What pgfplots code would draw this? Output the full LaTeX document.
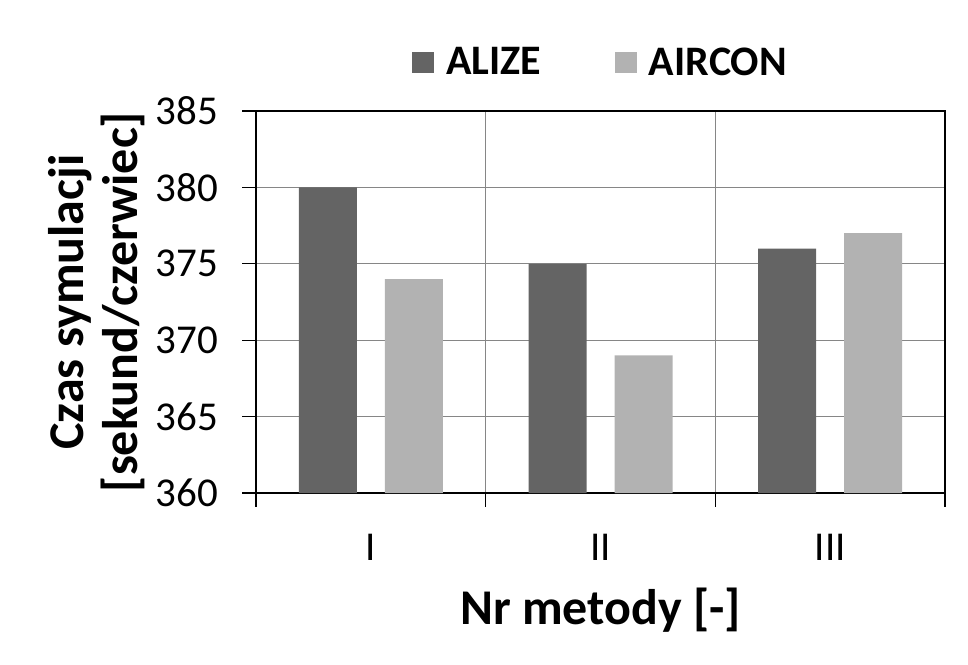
\documentclass[border=0pt]{standalone}
\usepackage{pgfplots}
\pgfplotsset{compat=1.18}
\usepackage{fontspec}
\setmainfont{Carlito}
\definecolor{darkbar}{HTML}{646464}
\definecolor{lightbar}{HTML}{B2B2B2}
\definecolor{gridgray}{HTML}{868686}
\begin{document}
\begin{tikzpicture}
\useasboundingbox (-256pt,-171pt) rectangle (712pt,493pt);
\begin{axis}[
  at={(0pt,0pt)}, anchor=south west,
  scale only axis, width=689pt, height=382pt,
  xmin=-0.5, xmax=2.5, ymin=360, ymax=385,
  ytick={360,365,...,385},
  xtick={-0.5,0.5,1.5,2.5}, xticklabels={},
  extra x ticks={0,1,2}, extra x tick labels={I,II,III},
  extra x tick style={major tick length=0pt, grid=none,
     xticklabel style={yshift=-38pt}},
  xtick pos=bottom, ytick pos=left,
  tick align=outside,
  major tick length=13.5pt,
  tick style={black, line width=1.2pt},
  xmajorgrids, ymajorgrids,
  grid style={gridgray, line width=1.2pt},
  axis line style={black, line width=1.4pt},
  /pgf/number format/assume math mode=true,
  ticklabel style={font=\fontsize{41}{48}\selectfont},
  yticklabel style={xshift=-21pt},
  xlabel={\textbf{Nr metody [-]}},
  xlabel style={at={(axis description cs:0.5,-0.306)}, anchor=center, font=\fontsize{50}{60}\selectfont},
  ylabel={\textbf{Czas symulacji}\\[-8pt]\textbf{[sekund/czerwiec]}},
  ylabel style={at={(axis description cs:-0.232,0.5)}, anchor=center, align=center, font=\fontsize{50}{62}\selectfont},
  ybar, bar width=58pt,
  legend columns=2,
  legend style={draw=none, fill=none, at={(axis description cs:0.5,1.128)}, anchor=center,
     font=\bfseries\fontsize{42}{50}\selectfont,
     /tikz/every even column/.append style={column sep=72pt}},
  legend image code/.code={\fill[#1] (0pt,-10.5pt) rectangle (22pt,10.5pt); \path (32pt,0pt);},
]
\addplot[fill=darkbar, draw=none, bar shift=-43pt] coordinates {(0,380) (1,375) (2,376)};
\addplot[fill=lightbar, draw=none, bar shift=43pt] coordinates {(0,374) (1,369) (2,377)};
\legend{ALIZE, AIRCON}
\end{axis}
\end{tikzpicture}
\end{document}
